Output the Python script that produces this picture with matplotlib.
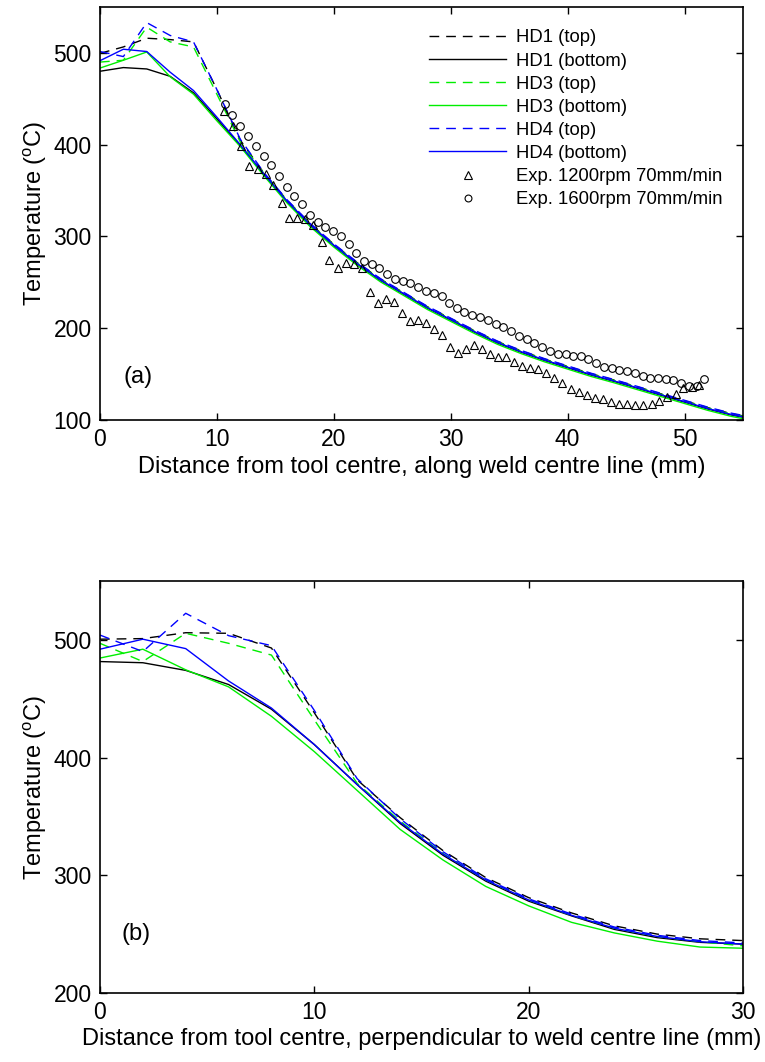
import matplotlib
matplotlib.use("Agg")
import matplotlib.pyplot as plt

plt.rcParams['font.family'] = ['Liberation Sans', 'DejaVu Sans']
plt.rcParams['mathtext.default'] = 'regular'

# ---- (a) along the weld centre line ----
dist_along = [0, 2, 4, 6, 8, 10, 12, 14, 16, 18, 20, 22, 24, 26, 28, 30,
              32, 34, 36, 38, 40, 42, 44, 46, 48, 50, 52, 54, 55]

hd1_top_a = [499.5, 506.5, 516, 514.5, 512, 460, 405,
             369.5, 339.5, 313.5, 291.5, 271.5, 253.5, 238.5, 223.5, 210.5, 197.5,
             185.5, 175.5, 166.5, 158.5, 150.5, 143.5, 136, 128.5, 121, 113.5, 107, 104.5]
hd1_bot_a = [480, 484, 482.5, 474.5, 456.5, 428, 399,
             368, 338, 312, 290, 270, 252, 237, 222, 209, 196,
             184, 174, 165, 157, 149, 142, 134.5, 127, 119.5, 112, 105.5, 103]
hd3_top_a = [490, 492, 528, 512, 506.5, 455, 403,
             369, 339, 313, 291, 271, 253, 238, 223, 210, 197,
             185, 175, 166, 158, 150, 143, 135.5, 128, 120.5, 113, 106.5, 104]
hd3_bot_a = [483.5, 492, 501, 474, 455, 426, 398,
             366.5, 336.5, 310.5, 288.5, 268.5, 250.5, 235.5, 220.5, 207.5, 194.5,
             182.5, 172.5, 163.5, 155.5, 147.5, 140.5, 133, 125.5, 118, 110.5, 104, 101.5]
hd4_top_a = [501.5, 496, 533, 519, 512, 460, 406,
             370, 340, 314, 292, 272, 254, 239, 224, 211, 198,
             186, 176, 167, 159, 151, 144, 136.5, 129, 121.5, 114, 107.5, 105]
hd4_bot_a = [491.5, 504, 501.5, 479, 459, 430, 400,
             368.5, 338.5, 312.5, 290.5, 270.5, 252.5, 237.5, 222.5, 209.5, 196.5,
             184.5, 174.5, 165.5, 157.5, 149.5, 142.5, 135, 127.5, 120, 112.5, 106, 103.5]

# thermocouple measurements, 1200 rpm 70 mm/min
exp1200_d = [10.64, 11.35, 12.06, 12.77, 13.49, 14.17, 14.83, 15.54, 16.2, 16.88,
             17.56, 18.25, 18.96, 19.62, 20.33, 21.02, 21.7, 22.38, 23.06, 23.75,
             24.44, 25.15, 25.83, 26.52, 27.18, 27.89, 28.57, 29.28, 29.94, 30.65,
             31.31, 31.99, 32.68, 33.36, 34.07, 34.73, 35.4, 36.1, 36.78, 37.49,
             38.18, 38.86, 39.55, 40.26, 40.97, 41.63, 42.34, 43.0, 43.71, 44.4,
             45.05, 45.77, 46.48, 47.19, 47.84, 48.53, 49.25, 49.9, 50.61, 51.24]
exp1200_t = [437, 420, 399, 377, 373, 368, 356, 337, 320, 320,
             319, 313, 294, 274, 266, 271, 270, 266, 239, 227,
             232, 229, 217, 208, 209, 206, 199, 193, 180, 173,
             177, 182, 177, 172, 169, 169, 163.5, 159, 157, 156,
             151, 146, 140, 133.5, 130, 127, 124, 122.5, 120, 118,
             117, 116, 116, 117, 121, 125, 128, 134.5, 135.5, 138]

# thermocouple measurements, 1600 rpm 70 mm/min
exp1600_d = [10.69, 11.32, 11.98, 12.69, 13.34, 14.03, 14.63, 15.31, 15.97, 16.62,
             17.31, 17.96, 18.61, 19.28, 19.93, 20.6, 21.27, 21.93, 22.6, 23.24,
             23.88, 24.58, 25.24, 25.89, 26.52, 27.23, 27.89, 28.57, 29.23, 29.88,
             30.51, 31.17, 31.85, 32.51, 33.16, 33.85, 34.48, 35.16, 35.84, 36.5,
             37.15, 37.84, 38.47, 39.15, 39.84, 40.49, 41.12, 41.77, 42.43, 43.11,
             43.77, 44.42, 45.11, 45.77, 46.42, 47.05, 47.71, 48.39, 49.04, 49.7,
             50.39, 51.04, 51.7]
exp1600_t = [444, 432, 420, 409, 399, 388, 378, 366, 354, 344,
             335, 323, 316, 310, 306, 300, 292, 282, 273, 270,
             266, 259, 254, 252, 249, 245, 240.5, 238, 235, 228,
             222, 218, 214, 212.5, 209, 205, 201, 197, 192, 188,
             184, 180, 175, 171.5, 171.5, 170, 169.5, 166.5, 162, 158,
             157, 155, 153.5, 151, 148.5, 146, 145.5, 144.5, 143.5, 140.5,
             137, 137.5, 144.5]

# ---- (b) perpendicular to the weld centre line ----
dist_perp = [0, 2, 4, 6, 8, 10, 12, 14, 16, 18, 20, 22, 24, 26, 28, 30]

hd1_top_b = [500.5, 501, 506, 505.5, 493, 438, 381, 349, 321, 298, 281, 268, 257, 250, 246, 244.5]
hd1_bot_b = [481.5, 480.5, 474, 462, 441, 411, 377, 344, 317, 295, 278, 265.5, 254, 247, 243, 241.5]
hd3_top_b = [497, 481.5, 505.5, 497, 487, 432, 378, 346, 318.5, 296, 279, 266, 255, 248, 243.5, 240]
hd3_bot_b = [484.5, 492, 474.5, 460, 435, 405, 372, 339, 313, 290.5, 274, 260, 251, 244, 239, 238]
hd4_top_b = [504, 490, 522.5, 503.5, 495, 440, 382, 348, 320, 297, 280, 267, 256, 249, 244.5, 242.5]
hd4_bot_b = [492, 500.5, 492.5, 465, 442, 411, 377, 345, 318, 296, 279, 266, 255, 248, 243.5, 241.5]

series_labels = ['HD1 (top)', 'HD1 (bottom)', 'HD3 (top)', 'HD3 (bottom)',
                 'HD4 (top)', 'HD4 (bottom)']
series_colors = ['black', 'black', '#00ee00', '#00ee00', '#0000ff', '#0000ff']
series_dashed = [True, False, True, False, True, False]

TICK_FS = 16.5
LABEL_FS = 17
LW = 1.0
DASH = (7, 5)

fig = plt.figure(figsize=(7.65, 10.62), dpi=100)
ax1 = fig.add_axes([0.1307, 0.6045, 0.8405, 0.3889])
ax2 = fig.add_axes([0.1307, 0.0650, 0.8405, 0.3880])


def draw_curves(ax, x, ys):
    handles = []
    for y, lab, col, dashed in zip(ys, series_labels, series_colors, series_dashed):
        h, = ax.plot(x, y, color=col, lw=LW, label=lab)
        if dashed:
            h.set_dashes(DASH)
        handles.append(h)
    return handles


def style_axes(ax):
    for s in ax.spines.values():
        s.set_linewidth(1.2)
    ax.tick_params(direction='in', top=True, right=True, length=5, width=1.0,
                   labelsize=TICK_FS, pad=6)


# panel (a)
h_a = draw_curves(ax1, dist_along,
                  [hd1_top_a, hd1_bot_a, hd3_top_a, hd3_bot_a, hd4_top_a, hd4_bot_a])
h_tri, = ax1.plot(exp1200_d, exp1200_t, linestyle='none', marker='^', ms=6,
                  mfc='none', mec='black', mew=0.8, label='Exp. 1200rpm 70mm/min')
h_circ, = ax1.plot(exp1600_d, exp1600_t, linestyle='none', marker='o', ms=5.5,
                   mfc='none', mec='black', mew=0.8, label='Exp. 1600rpm 70mm/min')
ax1.set_xlim(0, 55)
ax1.set_ylim(100, 550)
ax1.set_xticks([0, 10, 20, 30, 40, 50])
ax1.set_yticks([100, 200, 300, 400, 500])
ax1.set_xlabel('Distance from tool centre, along weld centre line (mm)',
               fontsize=LABEL_FS, labelpad=3)
ax1.set_ylabel('Temperature ($^{o}$C)', fontsize=LABEL_FS, labelpad=3)
ax1.text(2.0, 147, '(a)', fontsize=LABEL_FS, ha='left', va='center')
style_axes(ax1)

leg = ax1.legend(handles=h_a + [h_tri, h_circ], loc='upper left',
                 bbox_to_anchor=(0.497, 0.968), frameon=False, fontsize=13.3,
                 handlelength=4.2, handletextpad=0.5, labelspacing=0.33,
                 borderpad=0, markerscale=0.9)

# panel (b)
draw_curves(ax2, dist_perp,
            [hd1_top_b, hd1_bot_b, hd3_top_b, hd3_bot_b, hd4_top_b, hd4_bot_b])
ax2.set_xlim(0, 30)
ax2.set_ylim(200, 550)
ax2.set_xticks([0, 10, 20, 30])
ax2.set_yticks([200, 300, 400, 500])
ax2.set_xlabel('Distance from tool centre, perpendicular to weld centre line (mm)',
               fontsize=LABEL_FS, labelpad=3)
ax2.set_ylabel('Temperature ($^{o}$C)', fontsize=LABEL_FS, labelpad=3)
ax2.text(1.0, 250, '(b)', fontsize=LABEL_FS, ha='left', va='center')
style_axes(ax2)

fig.savefig('out.png', dpi=100)
